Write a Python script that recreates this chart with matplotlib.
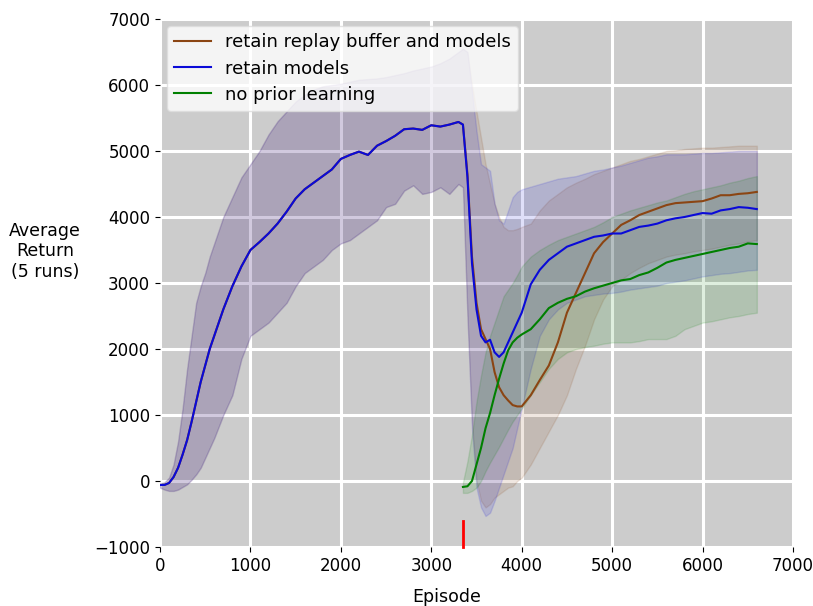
import matplotlib
matplotlib.use("Agg")
import matplotlib.pyplot as plt
import numpy as np

# ---------------- data ----------------
pre_x = [0, 50, 100, 150, 200, 250, 300, 350, 400, 450, 500, 550, 600,
         700, 800, 900, 1000, 1100, 1200, 1300, 1400, 1500, 1600, 1700, 1800,
         1900, 2000, 2100, 2200, 2300, 2400, 2500, 2600, 2700, 2800, 2900,
         3000, 3100, 3200, 3300]
pre_mean = [-60, -60, -30, 60, 200, 400, 620, 900, 1200, 1500, 1750, 2000, 2200,
            2600, 2950, 3250, 3500, 3620, 3750, 3900, 4080, 4280, 4420, 4520, 4620,
            4720, 4880, 4940, 4990, 4940, 5080, 5150, 5230, 5330, 5340, 5320,
            5390, 5370, 5400, 5440]
pre_upper = [-40, -20, 50, 250, 600, 1100, 1700, 2200, 2700, 2950, 3150, 3400, 3600,
             4000, 4300, 4600, 4800, 5000, 5250, 5450, 5600, 5750, 5850, 5930, 5980,
             6000, 6020, 6050, 6080, 6090, 6100, 6120, 6150, 6180, 6220, 6250,
             6280, 6330, 6400, 6500]
pre_lower = [-100, -130, -150, -150, -130, -90, -50, 20, 100, 200, 350, 500, 650,
             1000, 1300, 1850, 2200, 2300, 2400, 2550, 2700, 2950, 3150, 3250, 3350,
             3500, 3600, 3650, 3750, 3850, 3950, 4150, 4200, 4400, 4480, 4350,
             4380, 4450, 4350, 4500]

post_x = [3350, 3400, 3450, 3500, 3550, 3600, 3650, 3700, 3750, 3800, 3850, 3900, 3950, 4000,
          4100, 4200, 4300, 4400, 4500, 4600, 4700, 4800, 4900, 5000,
          5100, 5200, 5300, 5400, 5500, 5600, 5700, 5800, 5900, 6000,
          6100, 6200, 6300, 6400, 6500, 6600]

# retain replay buffer and models (after the switch)
rb_mean = [5400, 4650, 3400, 2700, 2300, 2150, 2000, 1650, 1420, 1300, 1220, 1150, 1130, 1130,
           1300, 1530, 1750, 2100, 2550, 2850, 3150, 3450, 3620, 3750,
           3880, 3950, 4030, 4080, 4130, 4180, 4210, 4220, 4230, 4240,
           4280, 4330, 4330, 4350, 4360, 4380]
rb_upper = [6550, 6500, 6000, 5600, 5200, 4800, 4500, 4200, 4000, 3850, 3800, 3800, 3820, 3850,
            3900, 4100, 4250, 4350, 4450, 4520, 4580, 4650, 4700, 4750,
            4800, 4850, 4880, 4920, 4960, 5000, 5010, 5030, 5040, 5050,
            5050, 5060, 5070, 5080, 5080, 5080]
rb_lower = [4450, 2500, 900, 0, -300, -400, -350, -250, -200, -150, -100, -80, 0, 50,
            250, 500, 750, 1000, 1300, 1700, 2050, 2450, 2750, 2950,
            3050, 3150, 3230, 3300, 3350, 3400, 3430, 3450, 3480, 3500,
            3520, 3550, 3580, 3600, 3630, 3650]

# retain models (after the switch)
rm_mean = [5400, 4600, 3300, 2600, 2200, 2100, 2140, 1950, 1880, 1950, 2100, 2250, 2400, 2550,
           2980, 3200, 3350, 3450, 3550, 3600, 3650, 3700, 3720, 3750,
           3750, 3800, 3850, 3870, 3900, 3950, 3980, 4000, 4030, 4060,
           4050, 4100, 4120, 4150, 4140, 4120]
rm_upper = [6550, 6500, 5900, 5300, 4800, 4750, 4700, 4200, 3950, 3900, 4100, 4300, 4380, 4420,
            4460, 4500, 4540, 4580, 4600, 4620, 4660, 4700, 4720, 4750,
            4780, 4820, 4860, 4900, 4920, 4950, 4950, 4950, 4960, 4970,
            4970, 4980, 4990, 5000, 5000, 5000]
rm_lower = [4450, 2500, 800, -100, -400, -530, -480, -300, -100, 100, 300, 500, 800, 1100,
            1700, 2200, 2450, 2600, 2700, 2750, 2800, 2820, 2840, 2850,
            2870, 2900, 2920, 2940, 2960, 3000, 3020, 3040, 3070, 3100,
            3120, 3140, 3150, 3170, 3190, 3200]

# no prior learning
np_mean = [-90, -80, 0, 250, 500, 800, 1030, 1300, 1550, 1780, 1980, 2100, 2170, 2220,
           2300, 2450, 2620, 2700, 2760, 2800, 2870, 2920, 2960, 3000,
           3040, 3060, 3120, 3160, 3230, 3310, 3350, 3380, 3410, 3440,
           3470, 3500, 3530, 3550, 3600, 3590]
np_upper = [-20, 300, 700, 1200, 1600, 1950, 2200, 2400, 2600, 2800, 2900, 3000, 3120, 3250,
            3400, 3500, 3580, 3650, 3700, 3750, 3800, 3850, 3920, 4000,
            4050, 4100, 4140, 4180, 4220, 4250, 4300, 4350, 4390, 4420,
            4450, 4480, 4520, 4550, 4590, 4620]
np_lower = [-180, -180, -150, -100, 0, 150, 280, 400, 520, 650, 780, 900, 1000, 1100,
            1300, 1500, 1700, 1850, 1950, 2000, 2030, 2050, 2080, 2100,
            2100, 2100, 2120, 2150, 2150, 2150, 2200, 2300, 2350, 2400,
            2420, 2450, 2480, 2500, 2530, 2550]

labels = ["retain replay buffer and models", "retain models", "no prior learning"]
switch_episode = 3350
switch_mark = [-1000, -600]

# ---------------- plotting ----------------
fig = plt.figure(figsize=(8.13, 6.06), dpi=100)
ax = fig.add_axes([160 / 813, 1 - 547 / 606, 633 / 813, 528 / 606])
ax.set_facecolor("#cccccc")
ax.set_axisbelow(True)
ax.grid(True, color="white", linewidth=2.2)

series = [
    (pre_x + post_x, pre_mean + rb_mean, pre_upper + rb_upper, pre_lower + rb_lower, "#8B4513"),
    (pre_x + post_x, pre_mean + rm_mean, pre_upper + rm_upper, pre_lower + rm_lower, "#0a0ad8"),
    (post_x, np_mean, np_upper, np_lower, "green"),
]
for (x, m, u, l, c), lab in zip(series, labels):
    ax.fill_between(x, l, u, color=c, alpha=0.13, linewidth=1)
    ax.plot(x, m, color=c, linewidth=1.5, label=lab)

ax.plot([switch_episode, switch_episode], switch_mark, color="red", linewidth=2, clip_on=False)

ax.set_xlim(0, 7000)
ax.set_ylim(-1000, 7000)
ax.set_xticks(np.arange(0, 7001, 1000))
ax.set_yticks(np.arange(-1000, 7001, 1000))
for s in ax.spines.values():
    s.set_visible(False)
ax.tick_params(labelsize=12)

ax.set_xlabel("Episode", fontsize=12.5)
ax.xaxis.set_label_coords(0.453, -0.078)
ax.set_ylabel("Average\nReturn\n(5 runs)", fontsize=12.5, rotation=0, ha="center", va="center")
ax.yaxis.set_label_coords(-0.182, 0.56)

leg = ax.legend(loc="upper left", fontsize=13, framealpha=0.8, facecolor="white",
                edgecolor="#dddddd", borderaxespad=0.4, labelspacing=0.45, handlelength=2.0)

fig.savefig("out.png", dpi=100)
